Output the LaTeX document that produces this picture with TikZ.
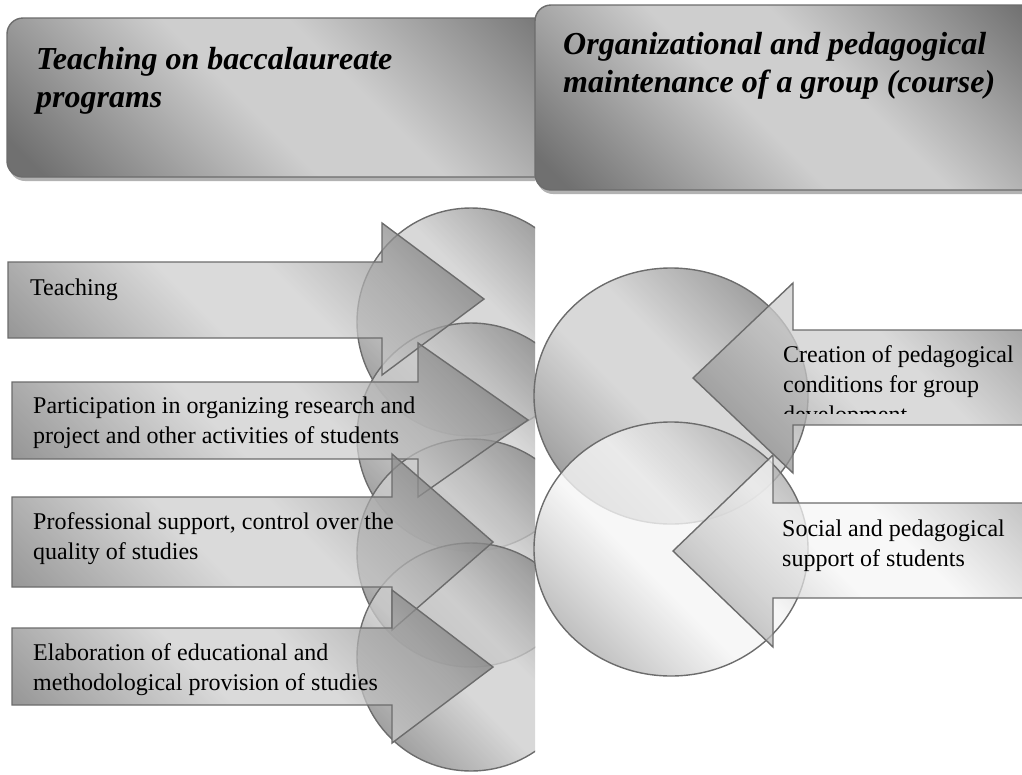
\documentclass[tikz,border=0pt]{standalone}
\usepackage{fontspec}
\setmainfont{Liberation Serif}
\usetikzlibrary{shadows}

\definecolor{edgegray}{RGB}{108,108,108}
\definecolor{metaldark}{RGB}{112,112,112}
\definecolor{metalmid}{RGB}{170,170,170}
\definecolor{metallight}{RGB}{206,206,206}
\definecolor{paledark}{RGB}{150,150,150}
\definecolor{palemid}{RGB}{210,210,210}
\definecolor{palelight}{RGB}{245,245,245}

\pgfdeclarehorizontalshading{metal}{100bp}{color(0bp)=(metaldark); color(18bp)=(metaldark); color(34bp)=(metalmid); color(44bp)=(metallight); color(56bp)=(metallight); color(66bp)=(metalmid); color(82bp)=(metaldark); color(100bp)=(metaldark)}
\pgfdeclarehorizontalshading{metalpale}{100bp}{color(0bp)=(paledark); color(18bp)=(paledark); color(34bp)=(palemid); color(44bp)=(palelight); color(56bp)=(palelight); color(66bp)=(palemid); color(82bp)=(paledark); color(100bp)=(paledark)}

\begin{document}
\begin{tikzpicture}[x=1pt, y=-1pt,
  metalfill/.style={shading=metal, shading angle=45, draw=edgegray, line width=1.4pt},
  palefill/.style={shading=metalpale, shading angle=45, draw=edgegray, line width=1.4pt},
  headbox/.style={metalfill, rounded corners=16pt,
    drop shadow={shadow xshift=2pt, shadow yshift=-4pt, fill=black!30, opacity=1}},
  headtext/.style={anchor=base west, align=left, inner sep=0pt,
    font=\fontsize{32}{38}\selectfont\bfseries\itshape},
  bodytext/.style={anchor=base west, align=left, inner sep=0pt,
    font=\fontsize{24}{30}\selectfont},
  disc/.style={fill opacity=0.8},
  blockarrow/.style={fill opacity=0.75}]
  \useasboundingbox (0,0) rectangle (1022,774);

  % left column: bachelor teaching
  \begin{scope}
    \clip (0,0) rectangle (535,774);
    \path[headbox] (7,18) rectangle (600,177);
    \node[headtext] (teachhead) at (36,107) {Teaching on baccalaureate\\programs};
    % circles behind the arrows
    \foreach \cy in {322,437,553,657}
      \path[metalfill, disc] (471,\cy) circle [radius=114];
    % arrows pointing right
    \path[metalfill, blockarrow] (8,262) -- (382,262) -- (382,223) -- (484,299)
      -- (382,375) -- (382,338) -- (8,338) -- cycle;
    \path[metalfill, blockarrow] (12,382) -- (418,382) -- (418,343) -- (528,420)
      -- (418,497) -- (418,459) -- (12,459) -- cycle;
    \path[metalfill, blockarrow] (12,497) -- (392,497) -- (392,454) -- (493,542)
      -- (392,630) -- (392,587) -- (12,587) -- cycle;
    \path[metalfill, blockarrow] (12,628) -- (392,628) -- (392,590) -- (493,667)
      -- (392,743) -- (392,705) -- (12,705) -- cycle;
    \node[bodytext] (teaching) at (30,295) {Teaching};
    \node[bodytext] (research) at (33,443) {Participation in organizing research and\\project and other activities of students};
    \node[bodytext] (quality) at (33,559) {Professional support, control over the\\quality of studies};
    \node[bodytext] (provision) at (33,690) {Elaboration of educational and\\methodological provision of studies};
  \end{scope}

  % right column: group maintenance
  \path[headbox] (535,5) rectangle (1060,190);
  \node[headtext] (grouphead) at (563,92) {Organizational and pedagogical\\maintenance of a group (course)};
  \path[metalfill, disc] (671,396) ellipse [x radius=137, y radius=128];
  \path[palefill, disc] (671,549) ellipse [x radius=137, y radius=127];
  % arrows pointing left
  \path[metalfill, blockarrow] (1060,330) -- (793,330) -- (793,283) -- (693,378)
    -- (793,473) -- (793,425) -- (1060,425) -- cycle;
  \path[palefill, blockarrow] (1060,503) -- (773,503) -- (773,455) -- (673,551)
    -- (773,647) -- (773,598) -- (1060,598) -- cycle;
  \begin{scope}
    \clip (775,330) rectangle (1022,413);
    \node[bodytext] (conditions) at (783,422) {Creation of pedagogical\\conditions for group\\development};
  \end{scope}
  \node[bodytext] (support) at (782,566) {Social and pedagogical\\support of students};
\end{tikzpicture}
\end{document}
